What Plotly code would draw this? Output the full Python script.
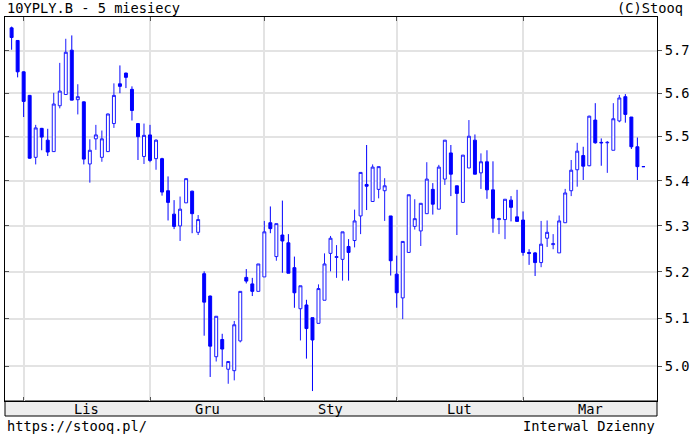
import plotly.graph_objects as go
import math

# ---- data (10YPLY.B daily) ----
open_ = [5.754, 5.724, 5.650, 5.595, 5.453, 5.519, 5.492, 5.466, 5.571, 5.597,
         5.701, 5.585, 5.580, 5.438, 5.495, 5.453, 5.466, 5.530, 5.622, 5.647,
         5.609, 5.530, 5.455, 5.504, 5.450, 5.450, 5.378, 5.326, 5.300, 5.351,
         5.377, 5.286, 5.196, 5.148, 5.020, 5.056, 4.994, 4.991, 5.053, 5.188,
         5.174, 5.158, 5.189, 5.307, 5.233, 5.280, 5.263, 5.209, 5.121, 5.129,
         5.102, 5.090, 5.139, 5.240, 5.231, 5.227, 5.255, 5.268, 5.322, 5.392,
         5.354, 5.381, 5.378, 5.322, 5.195, 5.144, 5.242, 5.299, 5.289, 5.327,
         5.381, 5.337, 5.404, 5.463, 5.389, 5.352, 5.429, 5.492, 5.418, 5.443,
         5.380, 5.314, 5.314, 5.357, 5.320, 5.313, 5.242, 5.241, 5.220, 5.273,
         5.259, 5.241, 5.307, 5.378, 5.425, 5.457, 5.434, 5.538, 5.487, 5.486,
         5.469, 5.536, 5.592, 5.545, 5.477, 5.432]
high = [5.757, 5.725, 5.651, 5.596, 5.527, 5.520, 5.518, 5.601, 5.671, 5.728,
        5.736, 5.621, 5.581, 5.494, 5.527, 5.514, 5.553, 5.623, 5.665, 5.648,
        5.616, 5.531, 5.530, 5.527, 5.494, 5.452, 5.410, 5.357, 5.365, 5.405,
        5.378, 5.324, 5.201, 5.149, 5.105, 5.068, 5.010, 5.095, 5.158, 5.206,
        5.187, 5.217, 5.311, 5.343, 5.305, 5.356, 5.282, 5.233, 5.170, 5.140,
        5.102, 5.173, 5.240, 5.278, 5.258, 5.287, 5.271, 5.336, 5.419, 5.481,
        5.437, 5.432, 5.406, 5.322, 5.235, 5.266, 5.369, 5.359, 5.350, 5.442,
        5.395, 5.436, 5.492, 5.481, 5.389, 5.458, 5.538, 5.505, 5.462, 5.469,
        5.444, 5.318, 5.359, 5.366, 5.380, 5.332, 5.249, 5.243, 5.311, 5.312,
        5.282, 5.323, 5.382, 5.447, 5.486, 5.477, 5.548, 5.577, 5.496, 5.490,
        5.577, 5.596, 5.598, 5.545, 5.498, 5.432]
low = [5.702, 5.637, 5.545, 5.450, 5.437, 5.469, 5.456, 5.466, 5.565, 5.597,
       5.584, 5.551, 5.437, 5.396, 5.470, 5.443, 5.465, 5.520, 5.600, 5.612,
       5.537, 5.447, 5.438, 5.442, 5.425, 5.367, 5.312, 5.293, 5.267, 5.351,
       5.284, 5.280, 5.064, 4.978, 5.010, 4.999, 4.964, 4.971, 5.050, 5.175,
       5.148, 5.158, 5.189, 5.284, 5.224, 5.198, 5.197, 5.123, 5.054, 5.016,
       4.949, 5.090, 5.139, 5.201, 5.187, 5.181, 5.181, 5.253, 5.282, 5.335,
       5.354, 5.361, 5.311, 5.192, 5.123, 5.099, 5.242, 5.292, 5.256, 5.327,
       5.325, 5.337, 5.391, 5.366, 5.280, 5.352, 5.429, 5.415, 5.382, 5.360,
       5.285, 5.282, 5.271, 5.310, 5.310, 5.235, 5.215, 5.191, 5.210, 5.254,
       5.249, 5.241, 5.307, 5.366, 5.387, 5.402, 5.433, 5.484, 5.434, 5.418,
       5.469, 5.533, 5.532, 5.472, 5.402, 5.432]
close = [5.731, 5.650, 5.581, 5.451, 5.520, 5.499, 5.465, 5.575, 5.605, 5.696,
         5.584, 5.592, 5.449, 5.469, 5.504, 5.495, 5.552, 5.595, 5.616, 5.637,
         5.560, 5.500, 5.503, 5.446, 5.492, 5.375, 5.352, 5.299, 5.337, 5.405,
         5.327, 5.314, 5.135, 5.042, 5.105, 5.036, 5.010, 5.087, 5.158, 5.180,
         5.158, 5.217, 5.287, 5.294, 5.305, 5.267, 5.197, 5.155, 5.170, 5.079,
         5.055, 5.164, 5.217, 5.273, 5.233, 5.287, 5.242, 5.311, 5.419, 5.388,
         5.431, 5.432, 5.389, 5.224, 5.155, 5.266, 5.369, 5.316, 5.350, 5.404,
         5.348, 5.431, 5.492, 5.415, 5.372, 5.458, 5.501, 5.415, 5.443, 5.380,
         5.317, 5.316, 5.359, 5.341, 5.310, 5.242, 5.240, 5.220, 5.260, 5.286,
         5.261, 5.311, 5.373, 5.424, 5.467, 5.433, 5.547, 5.486, 5.486, 5.487,
         5.541, 5.589, 5.551, 5.477, 5.432, 5.432]

month_labels = ["Lis", "Gru", "Sty", "Lut", "Mar"]
month_start_idx = [2, 23, 42, 64, 85]
y_ticks = [5.0, 5.1, 5.2, 5.3, 5.4, 5.5, 5.6, 5.7]
y_ticktext = ["5.0", "5.1", "5.2", "5.3", "5.4", "5.5", "5.6", "5.7"]

# ---- layout geometry ----
W, H = 693, 435
L, R, T, B = 4, 32, 17, 34
plot_h = H - T - B
x_range = [-1.1, 107.26]
y_min, y_max = 4.9286, 5.780
y_range = [math.log10(y_min), math.log10(y_max)]
FONT = "DejaVu Sans Mono"
FS = 13.7

x = list(range(len(open_)))

fig = go.Figure()
fig.add_trace(go.Candlestick(
    x=x, open=open_, high=high, low=low, close=close,
    increasing=dict(line=dict(color="#1a1aff", width=1), fillcolor="white"),
    decreasing=dict(line=dict(color="#0000ff", width=1), fillcolor="#0000ff"),
    whiskerwidth=0, showlegend=False, hoverinfo="none",
))

# month label positions: centered between month boundaries
bounds = month_start_idx + [x_range[1]]
for i, lab in enumerate(month_labels):
    cx = (bounds[i] + bounds[i + 1]) / 2
    fig.add_annotation(x=cx, xref="x", y=-7.5 / plot_h, yref="paper",
                       text=lab, showarrow=False, xanchor="center", yanchor="middle",
                       font=dict(family=FONT, size=FS, color="black"))

band_h = 15 / plot_h
fig.add_shape(type="rect", xref="paper", yref="paper", x0=0, x1=1, y0=-band_h, y1=0,
              fillcolor="#eeeeee", line=dict(color="black", width=1), layer="below")

def ann(text, xp, yp, xa):
    fig.add_annotation(x=xp, y=yp, xref="paper", yref="paper", text=text,
                       showarrow=False, xanchor=xa, yanchor="middle",
                       font=dict(family=FONT, size=FS, color="black"))

plot_w = W - L - R
ann("10YPLY.B - 5 miesiecy", 0, 1 + 9 / plot_h, "left")
ann("(C)Stooq", (689 - L) / plot_w, 1 + 9 / plot_h, "right")
ann("https://stooq.pl/", 0, -(426 - (H - B)) / plot_h, "left")
ann("Interwal Dzienny", 1, -(426 - (H - B)) / plot_h, "right")

fig.update_layout(
    width=W, height=H,
    margin=dict(l=L, r=R, t=T, b=B, pad=0),
    paper_bgcolor="white", plot_bgcolor="white",
    showlegend=False,
    xaxis=dict(range=x_range, tickvals=month_start_idx, showticklabels=False,
               ticks="inside", ticklen=4, tickcolor="#555555",
               showgrid=True, gridcolor="#e3e3e3", gridwidth=2,
               showline=True, linecolor="black", linewidth=1, mirror="ticks",
               zeroline=False, rangeslider=dict(visible=False), fixedrange=True),
    yaxis=dict(type="log", range=y_range, side="right",
               tickvals=y_ticks, ticktext=y_ticktext,
               ticks="outside", ticklen=4, tickcolor="#555555",
               tickfont=dict(family=FONT, size=FS, color="black"),
               showgrid=True, gridcolor="#e3e3e3", gridwidth=2,
               showline=True, linecolor="black", linewidth=1, mirror=True,
               zeroline=False, fixedrange=True),
    yaxis2=dict(type="log", range=y_range, overlaying="y", side="left",
                tickvals=y_ticks, showticklabels=False,
                ticks="inside", ticklen=4, tickcolor="#555555",
                showgrid=False, showline=False, zeroline=False, fixedrange=True),
)
# invisible trace to activate the left-hand tick axis
fig.add_trace(go.Scatter(x=[x_range[0]], y=[5.3], yaxis="y2", mode="markers",
                         marker=dict(opacity=0), showlegend=False, hoverinfo="skip"))

fig.write_html("out.html",
               config={"displayModeBar": False, "staticPlot": True},
               post_script="document.body.style.margin='0';document.body.style.padding='0';document.documentElement.style.overflow='hidden';")
